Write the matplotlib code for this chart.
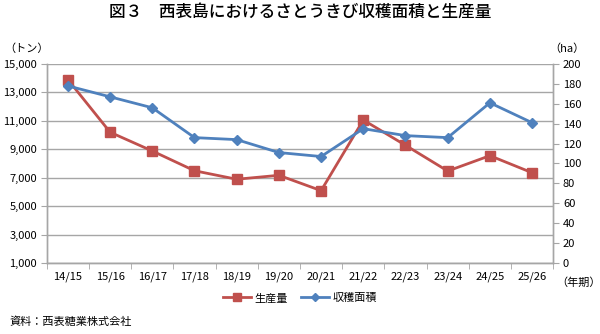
import matplotlib
matplotlib.use("Agg")
import matplotlib.pyplot as plt
import numpy as np
from matplotlib.ticker import FuncFormatter, FixedLocator

plt.rcParams['font.family'] = ['Noto Sans CJK JP', 'DejaVu Sans']

seasons = ["14/15", "15/16", "16/17", "17/18", "18/19", "19/20",
           "20/21", "21/22", "22/23", "23/24", "24/25", "25/26"]
production_t = [13900, 10200, 8880, 7490, 6890, 7170,
                6090, 11060, 9280, 7470, 8550, 7350]
harvest_ha = [178, 167, 156, 126, 124, 111,
              107, 135, 128, 126, 161, 141]

left_ticks = [1000, 3000, 5000, 7000, 9000, 11000, 13000, 15000]
right_ticks = list(range(0, 201, 20))

RED = "#C0504D"
BLUE = "#4F81BD"
GRID = "#A6A6A6"

fig = plt.figure(figsize=(6.0, 3.34), dpi=100)
ax = fig.add_axes([0.078, 0.2126, 0.844, 0.5958])
ax2 = ax.twinx()

x = np.arange(len(seasons))

ax.plot(x, production_t, color=RED, lw=2.0, marker="s", ms=7,
        label="生産量", zorder=3)
ax2.plot(x, harvest_ha, color=BLUE, lw=2.0, marker="D", ms=5,
         label="収穫面積", zorder=3)

ax.set_xlim(-0.5, len(seasons) - 0.5)
ax.set_ylim(1000, 15000)
ax2.set_ylim(0, 200)

ax.set_yticks(left_ticks)
ax.yaxis.set_major_formatter(FuncFormatter(lambda v, p: f"{int(v):,}"))
ax2.set_yticks(right_ticks)

ax.set_xticks(x)
ax.set_xticklabels(seasons)
ax.xaxis.set_minor_locator(FixedLocator(np.arange(-0.5, len(seasons), 1.0)))
ax.tick_params(axis="x", which="major", length=0, pad=6, labelsize=8)
ax.tick_params(axis="x", which="minor", length=4, color=GRID)
ax.tick_params(axis="y", length=4, color=GRID, labelsize=8, pad=3)
ax2.tick_params(axis="y", length=4, color=GRID, labelsize=8, pad=3)

ax.grid(axis="y", color=GRID, lw=1.0)
ax.set_axisbelow(True)

for a in (ax, ax2):
    a.spines["top"].set_visible(False)
    for s in ("left", "right", "bottom"):
        a.spines[s].set_color(GRID)
        a.spines[s].set_linewidth(1.0)

fig.text(0.5, 0.965, "図３　西表島におけるさとうきび収穫面積と生産量",
         ha="center", va="center", fontsize=12, fontweight="medium")
fig.text(0.045, 0.855, "（トン）", ha="center", va="center", fontsize=8)
fig.text(0.945, 0.855, "（ha）", ha="center", va="center", fontsize=8)
fig.text(0.965, 0.155, "（年期）", ha="center", va="center", fontsize=8)
fig.text(0.015, 0.02, "資料：西表糖業株式会社", ha="left", va="bottom", fontsize=8)

h1, l1 = ax.get_legend_handles_labels()
h2, l2 = ax2.get_legend_handles_labels()
fig.legend(h1 + h2, l1 + l2, loc="center", bbox_to_anchor=(0.5, 0.107),
           ncol=2, frameon=False, fontsize=8, handlelength=2.5,
           columnspacing=1.2, handletextpad=0.3, markerscale=0.8)

fig.savefig("out.png", dpi=100)
